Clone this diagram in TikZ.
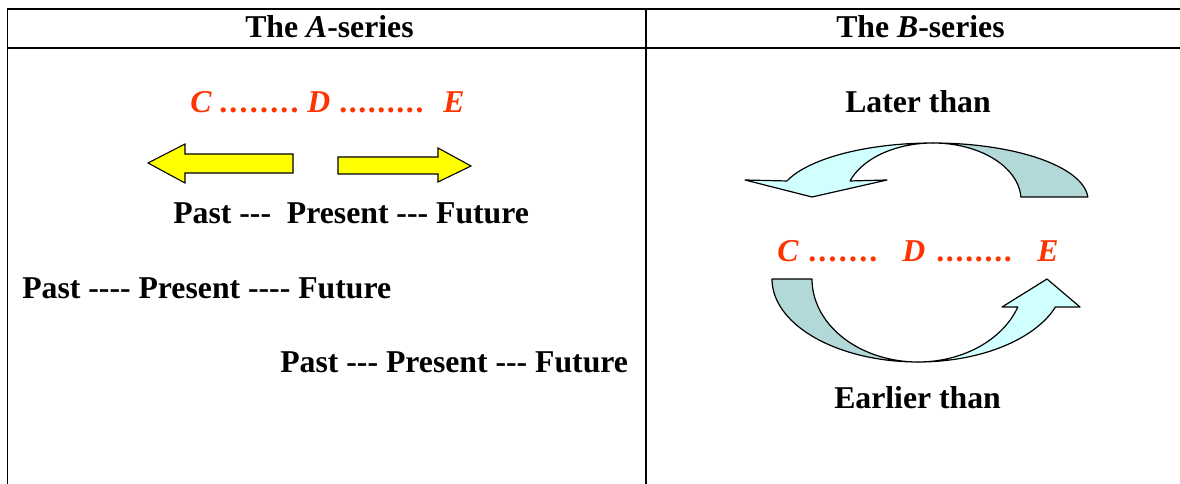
\documentclass[tikz,border=0pt]{standalone}
\usepackage{fontspec}
\setmainfont{Liberation Serif}
\definecolor{redtxt}{RGB}{255,51,0}
\definecolor{lightc}{RGB}{208,255,255}
\definecolor{darkc}{RGB}{178,216,216}
\definecolor{yel}{RGB}{255,255,0}
\newcommand\hyp{-\kern0pt}
\newcommand\dthree{\hyp\hyp\hyp}
\newcommand\dfour{\hyp\hyp\hyp\hyp}
\newcommand\pdot[1][1.7pt]{.\kern#1}
\tikzset{
  txt/.style={anchor=base west, inner sep=0pt, font=\fontsize{23.8}{28}\selectfont\bfseries},
  redt/.style={txt, text=redtxt},
  rule/.style={line width=1.2pt},
  yarrow/.style={draw=black, line width=0.8pt, fill=yel, line join=miter},
  lightpart/.style={draw=black, line width=0.9pt, fill=lightc, line join=round},
  darkpart/.style={draw=black, line width=0.9pt, fill=darkc, line join=round}
}
\begin{document}
\begin{tikzpicture}[x=0.75pt, y=-0.75pt]
\useasboundingbox (0,0) rectangle (1180,484);
% table rules
\draw[rule] (7.5,484) -- (7.5,9) -- (1180,9);
\draw[rule] (7.5,48) -- (1180,48);
\draw[rule] (646,9) -- (646,484);
% headers
\node[txt] (ha) at (245,38) {The \textit{A}-series};
\node[txt] (hb) at (836,38) {The \textit{B}-series};
% A-series: C ... D ... E
\node[redt] (c1) at (190,113) {\textit{C}};
\node[redt] (d1dots1) at (219,113) {\pdot\pdot\pdot\pdot\pdot\pdot\pdot\pdot};
\node[redt] (d1) at (307,113) {\textit{D}};
\node[redt] (d1dots2) at (339,113) {\pdot[1.2pt]\pdot[1.2pt]\pdot[1.2pt]\pdot[1.2pt]\pdot[1.2pt]\pdot[1.2pt]\pdot[1.2pt]\pdot[1.2pt]\pdot[1.2pt]};
\node[redt] (e1) at (443,113) {\textit{E}};
\draw[yarrow] (293,154) -- (185,154) -- (185,144) -- (148,163) -- (185,183) -- (185,173) -- (293,173) -- cycle;
\draw[yarrow] (338,157) -- (438,157) -- (438,148) -- (471,166) -- (438,182) -- (438,174) -- (338,174) -- cycle;
\node[txt] (ppf1) at (173,224) {Past \dthree~~Present \dthree{} Future};
\node[txt] (ppf2) at (22,299) {Past \dfour{} Present \dfour{} Future};
\node[txt] (ppf3) at (280,372) {Past \dthree{} Present \dthree{} Future};
% B-series
\node[txt] (later) at (845,113) {Later than};
% upper curved arrow: back (dark) part
\draw[darkpart] plot[domain=90:3, samples=50] ({933+155*cos(\x)},{200-57*sin(\x)})
  -- plot[domain=3:90, samples=50] ({933+88*cos(\x)},{200-57*sin(\x)}) -- cycle;
% upper curved arrow: front (light) part with head
\draw[lightpart] plot[domain=90:160.5, samples=50] ({933+155*cos(\x)},{200-57*sin(\x)})
  -- (745,180) -- (812,197) -- (887,180)
  -- plot[domain=160.5:90, samples=50] ({933+88*cos(\x)},{200-57*sin(\x)}) -- cycle;
% lower C ... D ... E
\node[redt] (c2) at (777,262) {\textit{C}};
\node[redt] (d2dots1) at (808,262) {\pdot\pdot\pdot\pdot\pdot\pdot\pdot};
\node[redt] (d2) at (902,262) {\textit{D}};
\node[redt] (d2dots2) at (936,262) {\pdot[1.3pt]\pdot[1.3pt]\pdot[1.3pt]\pdot[1.3pt]\pdot[1.3pt]\pdot[1.3pt]\pdot[1.3pt]\pdot[1.3pt]};
\node[redt] (e2) at (1037,262) {\textit{E}};
% lower curved arrow: tail (dark) part
\draw[darkpart] plot[domain=180:90, samples=50] ({918+146*cos(\x)},{279+83*sin(\x)})
  -- plot[domain=90:180, samples=50] ({918+106*cos(\x)},{279+83*sin(\x)}) -- cycle;
% lower curved arrow: front (light) part with head
\draw[lightpart] plot[domain=90:19.7, samples=50] ({918+106*cos(\x)},{279+83*sin(\x)})
  -- (1002,307) -- (1047,279) -- (1080,307)
  -- plot[domain=19.7:90, samples=50] ({918+146*cos(\x)},{279+83*sin(\x)}) -- cycle;
\node[txt] (earlier) at (834,408) {Earlier than};
\end{tikzpicture}
\end{document}
